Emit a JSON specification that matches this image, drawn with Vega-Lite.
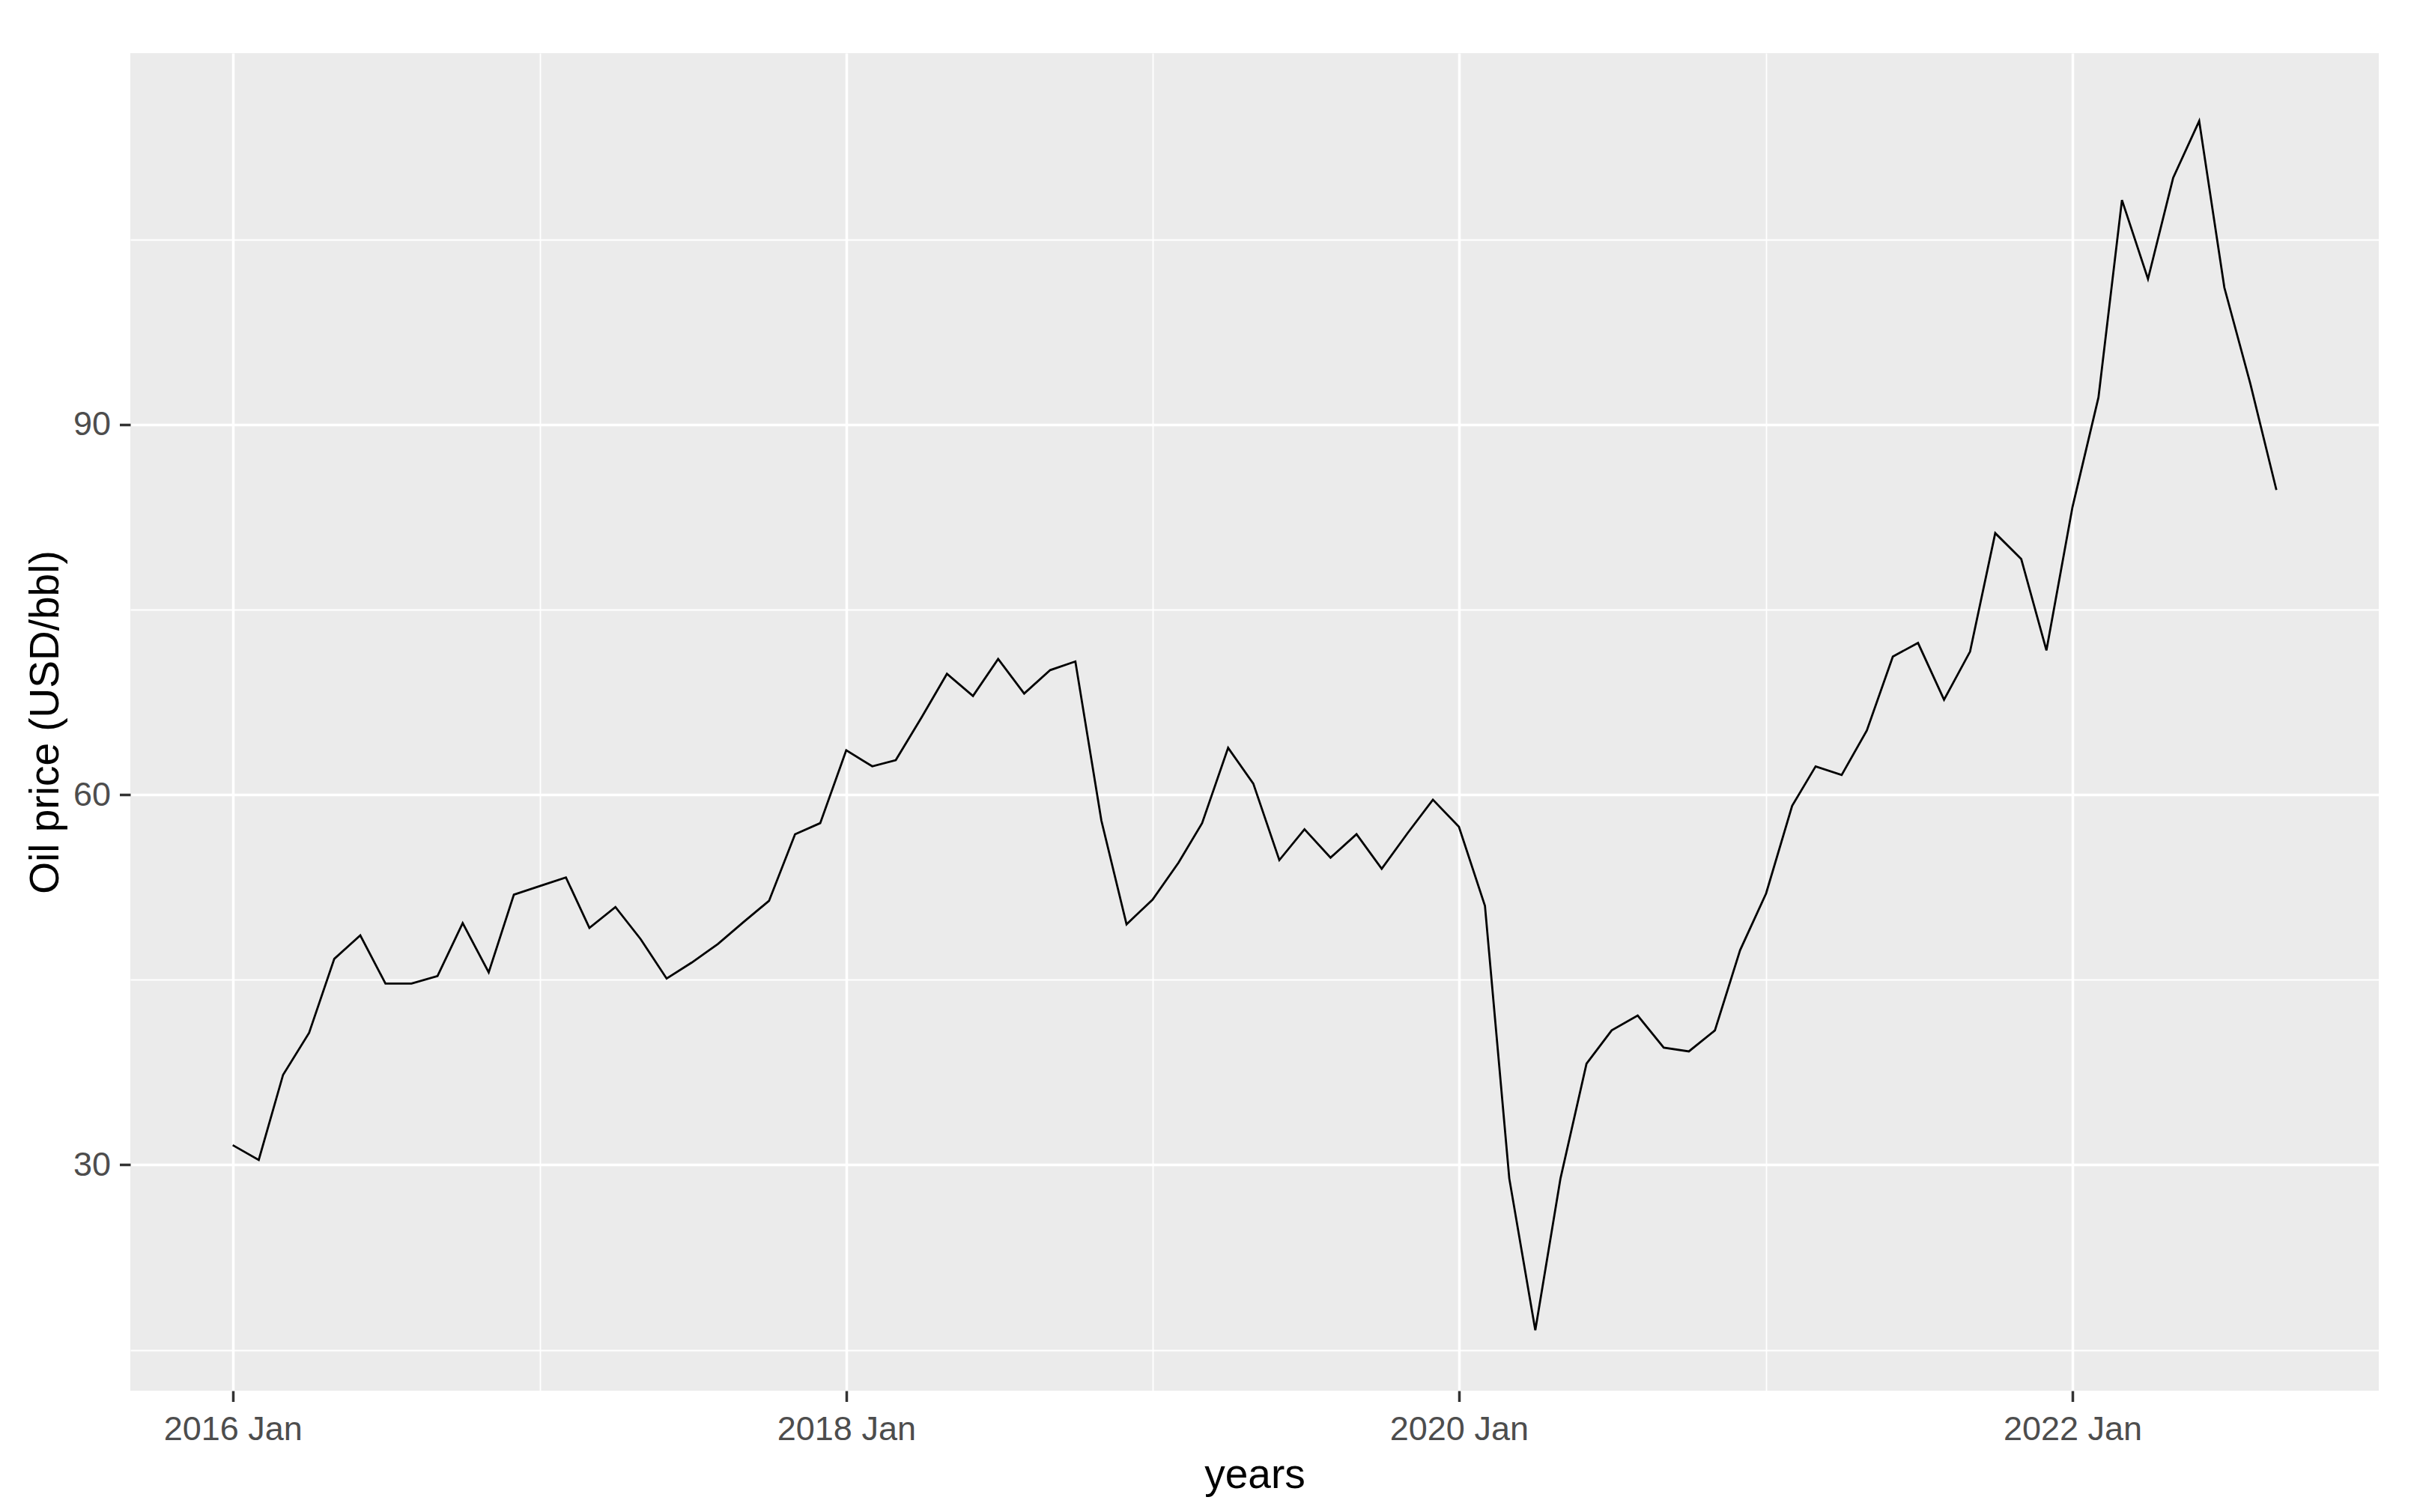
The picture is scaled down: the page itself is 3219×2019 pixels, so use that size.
{
  "$schema": "https://vega.github.io/schema/vega-lite/v6.json",
  "width": 3002,
  "height": 1786,
  "autosize": {"type": "none"},
  "padding": {"left": 174, "top": 71, "right": 43, "bottom": 162},
  "background": "#FFFFFF",
  "config": {
    "view": {"fill": "#EBEBEB", "stroke": null},
    "font": "Liberation Sans"
  },
  "data": {
    "values": [
      {"date": "2016/01/01", "price": 31.6}, {"date": "2016/02/01", "price": 30.4}, {"date": "2016/03/01", "price": 37.3}, {"date": "2016/04/01", "price": 40.7},
      {"date": "2016/05/01", "price": 46.7}, {"date": "2016/06/01", "price": 48.6}, {"date": "2016/07/01", "price": 44.7}, {"date": "2016/08/01", "price": 44.7},
      {"date": "2016/09/01", "price": 45.3}, {"date": "2016/10/01", "price": 49.6}, {"date": "2016/11/01", "price": 45.6}, {"date": "2016/12/01", "price": 51.9},
      {"date": "2017/01/01", "price": 52.6}, {"date": "2017/02/01", "price": 53.3}, {"date": "2017/03/01", "price": 49.2}, {"date": "2017/04/01", "price": 50.9},
      {"date": "2017/05/01", "price": 48.3}, {"date": "2017/06/01", "price": 45.1}, {"date": "2017/07/01", "price": 46.4}, {"date": "2017/08/01", "price": 47.9},
      {"date": "2017/09/01", "price": 49.7}, {"date": "2017/10/01", "price": 51.4}, {"date": "2017/11/01", "price": 56.8}, {"date": "2017/12/01", "price": 57.7},
      {"date": "2018/01/01", "price": 63.6}, {"date": "2018/02/01", "price": 62.3}, {"date": "2018/03/01", "price": 62.8}, {"date": "2018/04/01", "price": 66.3},
      {"date": "2018/05/01", "price": 69.8}, {"date": "2018/06/01", "price": 68.0}, {"date": "2018/07/01", "price": 71.0}, {"date": "2018/08/01", "price": 68.2},
      {"date": "2018/09/01", "price": 70.1}, {"date": "2018/10/01", "price": 70.8}, {"date": "2018/11/01", "price": 57.9}, {"date": "2018/12/01", "price": 49.5},
      {"date": "2019/01/01", "price": 51.5}, {"date": "2019/02/01", "price": 54.5}, {"date": "2019/03/01", "price": 57.7}, {"date": "2019/04/01", "price": 63.8},
      {"date": "2019/05/01", "price": 60.9}, {"date": "2019/06/01", "price": 54.7}, {"date": "2019/07/01", "price": 57.2}, {"date": "2019/08/01", "price": 54.9},
      {"date": "2019/09/01", "price": 56.8}, {"date": "2019/10/01", "price": 54.0}, {"date": "2019/11/01", "price": 56.9}, {"date": "2019/12/01", "price": 59.6},
      {"date": "2020/01/01", "price": 57.4}, {"date": "2020/02/01", "price": 51.0}, {"date": "2020/03/01", "price": 28.9}, {"date": "2020/04/01", "price": 16.6},
      {"date": "2020/05/01", "price": 28.9}, {"date": "2020/06/01", "price": 38.2}, {"date": "2020/07/01", "price": 40.9}, {"date": "2020/08/01", "price": 42.1},
      {"date": "2020/09/01", "price": 39.5}, {"date": "2020/10/01", "price": 39.2}, {"date": "2020/11/01", "price": 40.9}, {"date": "2020/12/01", "price": 47.4},
      {"date": "2021/01/01", "price": 52.0}, {"date": "2021/02/01", "price": 59.1}, {"date": "2021/03/01", "price": 62.3}, {"date": "2021/04/01", "price": 61.6},
      {"date": "2021/05/01", "price": 65.2}, {"date": "2021/06/01", "price": 71.2}, {"date": "2021/07/01", "price": 72.3}, {"date": "2021/08/01", "price": 67.7},
      {"date": "2021/09/01", "price": 71.6}, {"date": "2021/10/01", "price": 81.2}, {"date": "2021/11/01", "price": 79.1}, {"date": "2021/12/01", "price": 71.7},
      {"date": "2022/01/01", "price": 83.3}, {"date": "2022/02/01", "price": 92.2}, {"date": "2022/03/01", "price": 108.2}, {"date": "2022/04/01", "price": 101.8},
      {"date": "2022/05/01", "price": 110.0}, {"date": "2022/06/01", "price": 114.6}, {"date": "2022/07/01", "price": 101.1}, {"date": "2022/08/01", "price": 93.3},
      {"date": "2022/09/01", "price": 84.7}
    ]
  },
  "mark": {"type": "line", "color": "#000000", "strokeWidth": 2.8, "interpolate": "linear"},
  "encoding": {
    "x": {
      "field": "date",
      "type": "temporal",
      "scale": {"domain": [{"year": 2015, "month": 9, "date": 1}, {"year": 2023, "month": 1, "date": 1}], "nice": false},
      "axis": {
        "values": [
          {"year": 2016, "month": 1, "date": 1}, {"year": 2017, "month": 1, "date": 1}, {"year": 2018, "month": 1, "date": 1},
          {"year": 2019, "month": 1, "date": 1}, {"year": 2020, "month": 1, "date": 1}, {"year": 2021, "month": 1, "date": 1},
          {"year": 2022, "month": 1, "date": 1}
        ],
        "labelExpr": "year(datum.value) % 2 === 0 ? timeFormat(datum.value, '%Y %b') : ''",
        "tickOpacity": {"condition": {"test": "year(datum.value) % 2 === 0", "value": 1}, "value": 0},
        "gridWidth": {"condition": {"test": "year(datum.value) % 2 === 0", "value": 3.5}, "value": 1.8},
        "gridColor": "#FFFFFF",
        "gridOpacity": 1,
        "domain": false,
        "tickColor": "#333333",
        "tickSize": 14.5,
        "tickWidth": 3.5,
        "labelFont": "Liberation Sans",
        "labelFontSize": 45,
        "labelColor": "#4D4D4D",
        "labelPadding": 15,
        "labelLimit": 0,
        "labelFlush": false,
        "labelOverlap": false,
        "title": "years",
        "titleFont": "Liberation Sans",
        "titleFontSize": 55,
        "titleFontWeight": "normal",
        "titleColor": "#000000",
        "titlePadding": 12
      }
    },
    "y": {
      "field": "price",
      "type": "quantitative",
      "scale": {"domain": [11.7, 120.1], "nice": false, "zero": false},
      "axis": {
        "values": [15, 30, 45, 60, 75, 90, 105],
        "labelExpr": "datum.value % 30 === 0 ? datum.label : ''",
        "tickOpacity": {"condition": {"test": "datum.value % 30 === 0", "value": 1}, "value": 0},
        "gridWidth": {"condition": {"test": "datum.value % 30 === 0", "value": 3.5}, "value": 1.8},
        "gridColor": "#FFFFFF",
        "gridOpacity": 1,
        "domain": false,
        "tickColor": "#333333",
        "tickSize": 14.5,
        "tickWidth": 3.5,
        "labelFont": "Liberation Sans",
        "labelFontSize": 45,
        "labelColor": "#4D4D4D",
        "labelPadding": 12,
        "labelLimit": 0,
        "labelOverlap": false,
        "labelFlush": false,
        "title": "Oil price (USD/bbl)",
        "titleFont": "Liberation Sans",
        "titleFontSize": 55,
        "titleFontWeight": "normal",
        "titleColor": "#000000",
        "titlePadding": 8
      }
    }
  }
}
